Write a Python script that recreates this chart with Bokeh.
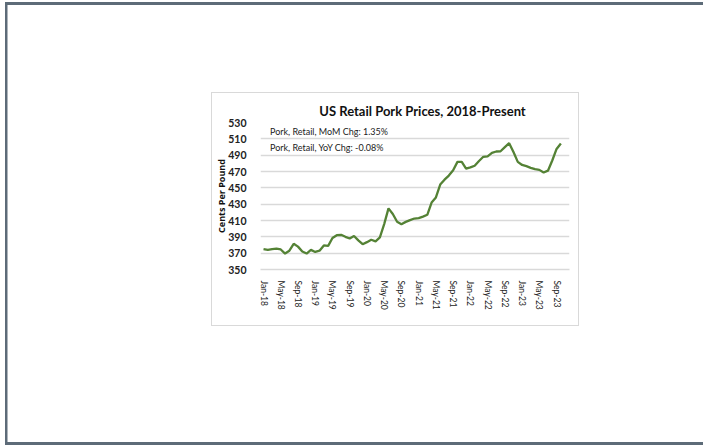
from bokeh.plotting import figure
from bokeh.models import Range1d, FixedTicker, Label
from bokeh.embed import file_html
from bokeh.resources import INLINE

# ---- data ----
months = [f"{m}-{y}" for y in ["18", "19", "20", "21", "22", "23"]
          for m in ["Jan", "Feb", "Mar", "Apr", "May", "Jun", "Jul", "Aug", "Sep", "Oct", "Nov", "Dec"]][:70]
price = [375.0, 374.0, 375.0, 375.5, 374.5, 369.5, 373.0, 381.5, 378.0, 372.0, 369.5, 374.0,
         371.5, 373.0, 379.5, 379.0, 388.5, 392.0, 392.5, 390.0, 388.0, 391.0, 385.6, 381.0,
         383.5, 386.4, 384.5, 389.3, 405.6, 424.8, 418.0, 408.5, 405.5, 408.3, 410.5, 412.4,
         413.0, 414.8, 417.0, 432.0, 438.2, 454.0, 460.0, 465.0, 471.5, 481.8, 481.8, 473.5,
         475.0, 477.0, 482.8, 488.0, 488.6, 492.9, 494.5, 494.8, 499.8, 504.7, 493.8, 481.8,
         478.0, 476.5, 474.5, 472.8, 472.0, 468.8, 471.0, 483.5, 497.6, 504.3]
x_tick_pos = list(range(0, 70, 4))
x_tick_labels = ["Jan-18", "May-18", "Sep-18", "Jan-19", "May-19", "Sep-19", "Jan-20", "May-20",
                 "Sep-20", "Jan-21", "May-21", "Sep-21", "Jan-22", "May-22", "Sep-22", "Jan-23",
                 "May-23", "Sep-23"]
y_ticks = [350, 370, 390, 410, 430, 450, 470, 490, 510, 530]
title_text = "US Retail Pork Prices, 2018-Present"
note_mom = "Pork, Retail, MoM Chg: 1.35%"
note_yoy = "Pork, Retail, YoY Chg: -0.08%"

x = list(range(len(price)))

# page decoration: light box round the chart, dark frame round the page (CSS shadows)
frame_col = "#5d6b78"
page_styles = {
    "margin-left": "212px",
    "margin-top": "93px",
    "box-shadow": ("0 0 0 1px #d9d9d9, "
                   "-102px 14.5px 0 102.5px #ffffff, "
                   "300px 14.5px 0 102.5px #ffffff, "
                   f"193px 309px 0 400px {frame_col}"),
}

p = figure(width=366, height=232, output_backend="svg", toolbar_location=None,
           x_range=Range1d(-0.7, 71.0), y_range=Range1d(350, 530),
           min_border_left=48, min_border_right=9, min_border_top=29, min_border_bottom=56,
           styles=page_styles)
p.outline_line_color = None
p.background_fill_color = "white"
p.border_fill_color = "white"

p.line(x, price, line_color="#548235", line_width=2.3)

# axes
p.xaxis.ticker = FixedTicker(ticks=x_tick_pos)
p.xaxis.major_label_overrides = {t: l for t, l in zip(x_tick_pos, x_tick_labels)}
p.xaxis.major_label_orientation = "vertical"
p.xaxis.major_tick_line_color = None
p.xaxis.minor_tick_line_color = None
p.xaxis.axis_line_color = "#d9d9d9"
p.xaxis.axis_line_width = 1.3
p.xaxis.major_label_text_font = "Lato"
p.xaxis.major_label_text_font_size = "8.5px"
p.xaxis.major_label_text_color = "#222222"
p.xaxis.major_label_standoff = 5

p.yaxis.ticker = FixedTicker(ticks=y_ticks)
p.yaxis.major_tick_line_color = None
p.yaxis.minor_tick_line_color = None
p.yaxis.axis_line_color = None
p.yaxis.major_label_text_font = "Lato"
p.yaxis.major_label_text_font_style = "bold"
p.yaxis.major_label_text_font_size = "10.5px"
p.yaxis.major_label_text_color = "#222222"
p.yaxis.major_label_standoff = 8
p.yaxis.axis_label = "Cents Per Pound"
p.yaxis.axis_label_text_font = "Open Sans"
p.yaxis.axis_label_text_font_style = "bold"
p.yaxis.axis_label_text_font_size = "9px"
p.yaxis.axis_label_text_color = "#111111"
p.yaxis.axis_label_standoff = -3

p.xgrid.grid_line_color = None
p.ygrid.ticker = FixedTicker(ticks=y_ticks)
p.ygrid.grid_line_color = "#d9d9d9"
p.ygrid.grid_line_width = 1.3

# notes
p.add_layout(Label(x=1.5, y=518.7, text=note_mom, text_font="Lato", text_font_size="9px",
                   text_color="#222222", text_baseline="middle"))
p.add_layout(Label(x=1.5, y=499.7, text=note_yoy, text_font="Lato", text_font_size="9px",
                   text_color="#222222", text_baseline="middle"))

# title (side panel so it is not clipped to the plot area)
p.add_layout(Label(x=210, y=17, x_units="canvas", y_units="canvas", text=title_text,
                   text_font="Lato", text_font_style="bold", text_font_size="13px",
                   text_color="#111111", text_align="center", text_baseline="middle"), "above")

open("out.html", "w").write(file_html(p, INLINE))
